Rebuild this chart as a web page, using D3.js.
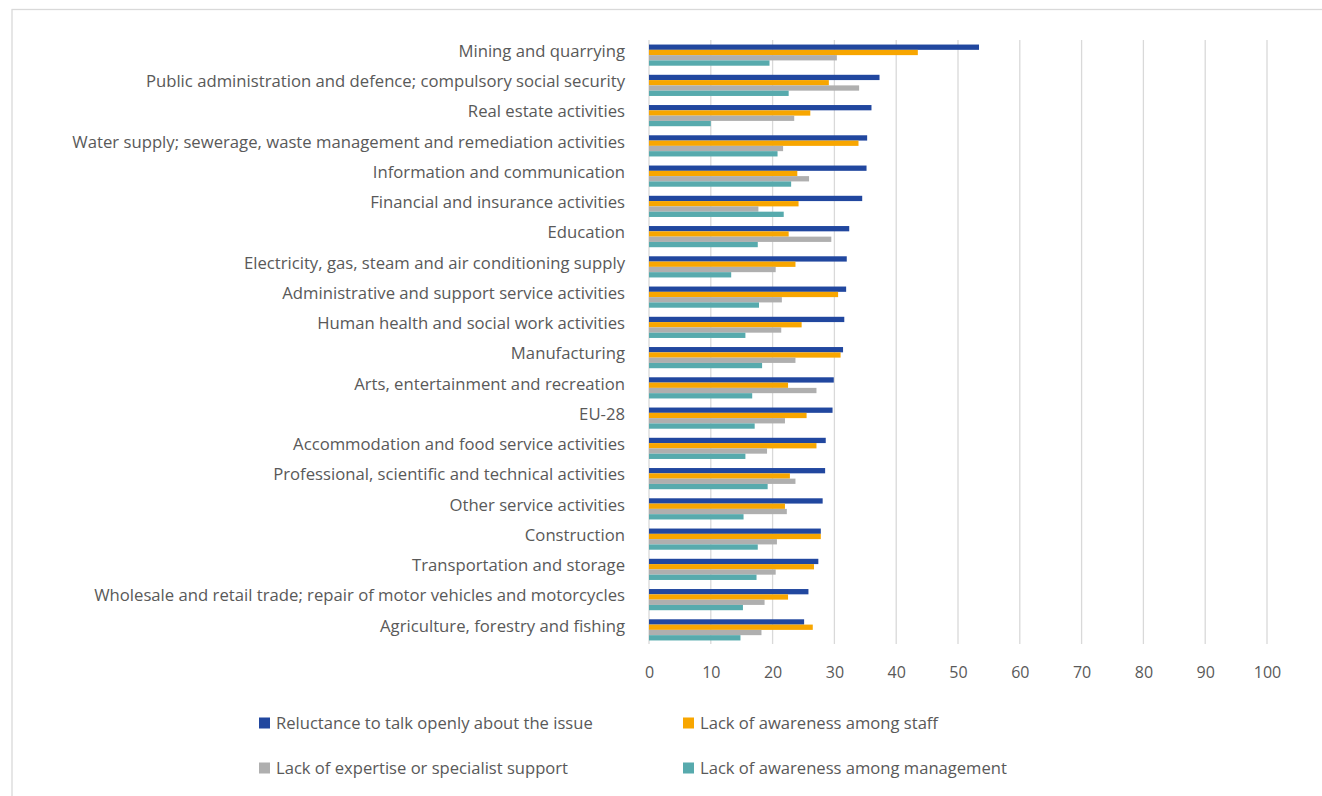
<!DOCTYPE html>
<html>
<head>
<meta charset="utf-8">
<script src="https://cdn.jsdelivr.net/npm/d3@7"></script>
<style>
  body{margin:0;background:#fff;}
  text{font-family:"Open Sans",sans-serif;}
</style>
</head>
<body>
<div class="canvas"></div>
<script>
const categories=[
  "Mining and quarrying",
  "Public administration and defence; compulsory social security",
  "Real estate activities",
  "Water supply; sewerage, waste management and remediation activities",
  "Information and communication",
  "Financial and insurance activities",
  "Education",
  "Electricity, gas, steam and air conditioning supply",
  "Administrative and support service activities",
  "Human health and social work activities",
  "Manufacturing",
  "Arts, entertainment and recreation",
  "EU-28",
  "Accommodation and food service activities",
  "Professional, scientific and technical activities",
  "Other service activities",
  "Construction",
  "Transportation and storage",
  "Wholesale and retail trade; repair of motor vehicles and motorcycles",
  "Agriculture, forestry and fishing"
];

const seriesNames=[
  "Reluctance to talk openly about the issue",
  "Lack of awareness among staff",
  "Lack of expertise or specialist support",
  "Lack of awareness among management"
];

const reluctance=[53.4,37.3,36.0,35.3,35.2,34.5,32.4,32.0,31.9,31.6,31.4,29.9,29.7,28.6,28.5,28.1,27.8,27.4,25.8,25.1];
const staffAwareness=[43.5,29.1,26.1,33.9,24.0,24.2,22.6,23.7,30.6,24.7,31.0,22.5,25.5,27.1,22.8,22.0,27.8,26.7,22.5,26.5];
const expertise=[30.4,34.0,23.5,21.7,25.9,17.7,29.5,20.5,21.5,21.4,23.7,27.1,22.0,19.1,23.7,22.3,20.7,20.5,18.7,18.2];
const mgmtAwareness=[19.5,22.6,10.0,20.8,23.0,21.8,17.6,13.3,17.8,15.6,18.3,16.7,17.1,15.6,19.2,15.3,17.6,17.4,15.2,14.8];

const xTicks=[0,10,20,30,40,50,60,70,80,90,100];
const colors=["#21479f","#f8a600","#afafaf","#57aaad"];

const allSeries=[reluctance,staffAwareness,expertise,mgmtAwareness];
const data=categories.map((c,i)=>({name:c,values:allSeries.map((s,j)=>({key:seriesNames[j],value:s[i]}))}));

const svg=d3.select('.canvas').append('svg')
  .attr('width',1322)
  .attr('height',796);

// outer frame
svg.append('rect')
  .attr('x',12).attr('y',9.5)
  .attr('width',1330).attr('height',800)
  .attr('fill','none')
  .attr('stroke','#d9d9d9')
  .attr('stroke-width',1.3);

const x=d3.scaleLinear()
  .domain([0,100])
  .range([649,1267]);

const y0=d3.scaleBand()
  .domain(categories)
  .range([40,645])
  .paddingInner(0.3)
  .paddingOuter(0.15);

const y1=d3.scaleBand()
  .domain(seriesNames)
  .range([0,y0.bandwidth()]);

// gridlines
svg.append('g')
  .selectAll('line')
  .data(xTicks)
  .enter().append('line')
  .attr('x1',d=>x(d)).attr('x2',d=>x(d))
  .attr('y1',40).attr('y2',644)
  .attr('stroke','#d9d9d9')
  .attr('stroke-width',1.3);

// x axis labels
const xAxis=d3.axisBottom(x).tickValues(xTicks).tickSize(0).tickPadding(0);
const xAxisGroup=svg.append('g')
  .attr('transform','translate(0,667)')
  .call(xAxis);
xAxisGroup.select('.domain').remove();
xAxisGroup.selectAll('text')
  .attr('fill','#595959')
  .attr('font-size','16px')
  .attr('font-family','"Open Sans",sans-serif')
  .attr('dy','0.71em');

// category labels
const yAxis=d3.axisLeft(y0).tickSize(0).tickPadding(0);
const yAxisGroup=svg.append('g')
  .attr('transform','translate(625,0)')
  .call(yAxis);
yAxisGroup.select('.domain').remove();
yAxisGroup.selectAll('text')
  .attr('fill','#595959')
  .attr('font-size','16.7px')
  .attr('font-family','"Open Sans",sans-serif')
  .attr('dy','0.1em');

// bars
const groups=svg.append('g')
  .selectAll('g')
  .data(data)
  .enter().append('g')
  .attr('transform',d=>`translate(0,${y0(d.name)})`);

groups.selectAll('rect')
  .data(d=>d.values)
  .enter().append('rect')
  .attr('x',x(0))
  .attr('y',d=>y1(d.key))
  .attr('width',d=>x(d.value)-x(0))
  .attr('height',y1.bandwidth())
  .attr('fill',(d,i)=>colors[i]);

// legend
const legendPos=[[259,723],[683,723],[259,768],[683,768]];
const legend=svg.append('g')
  .selectAll('g')
  .data(seriesNames)
  .enter().append('g')
  .attr('transform',(d,i)=>`translate(${legendPos[i][0]},${legendPos[i][1]})`);

legend.append('rect')
  .attr('x',0).attr('y',-5.5)
  .attr('width',11).attr('height',11)
  .attr('fill',(d,i)=>colors[i]);

legend.append('text')
  .attr('x',17)
  .attr('dy','0.35em')
  .attr('fill','#595959')
  .attr('font-size','16.6px')
  .text(d=>d);
</script>
</body>
</html>
